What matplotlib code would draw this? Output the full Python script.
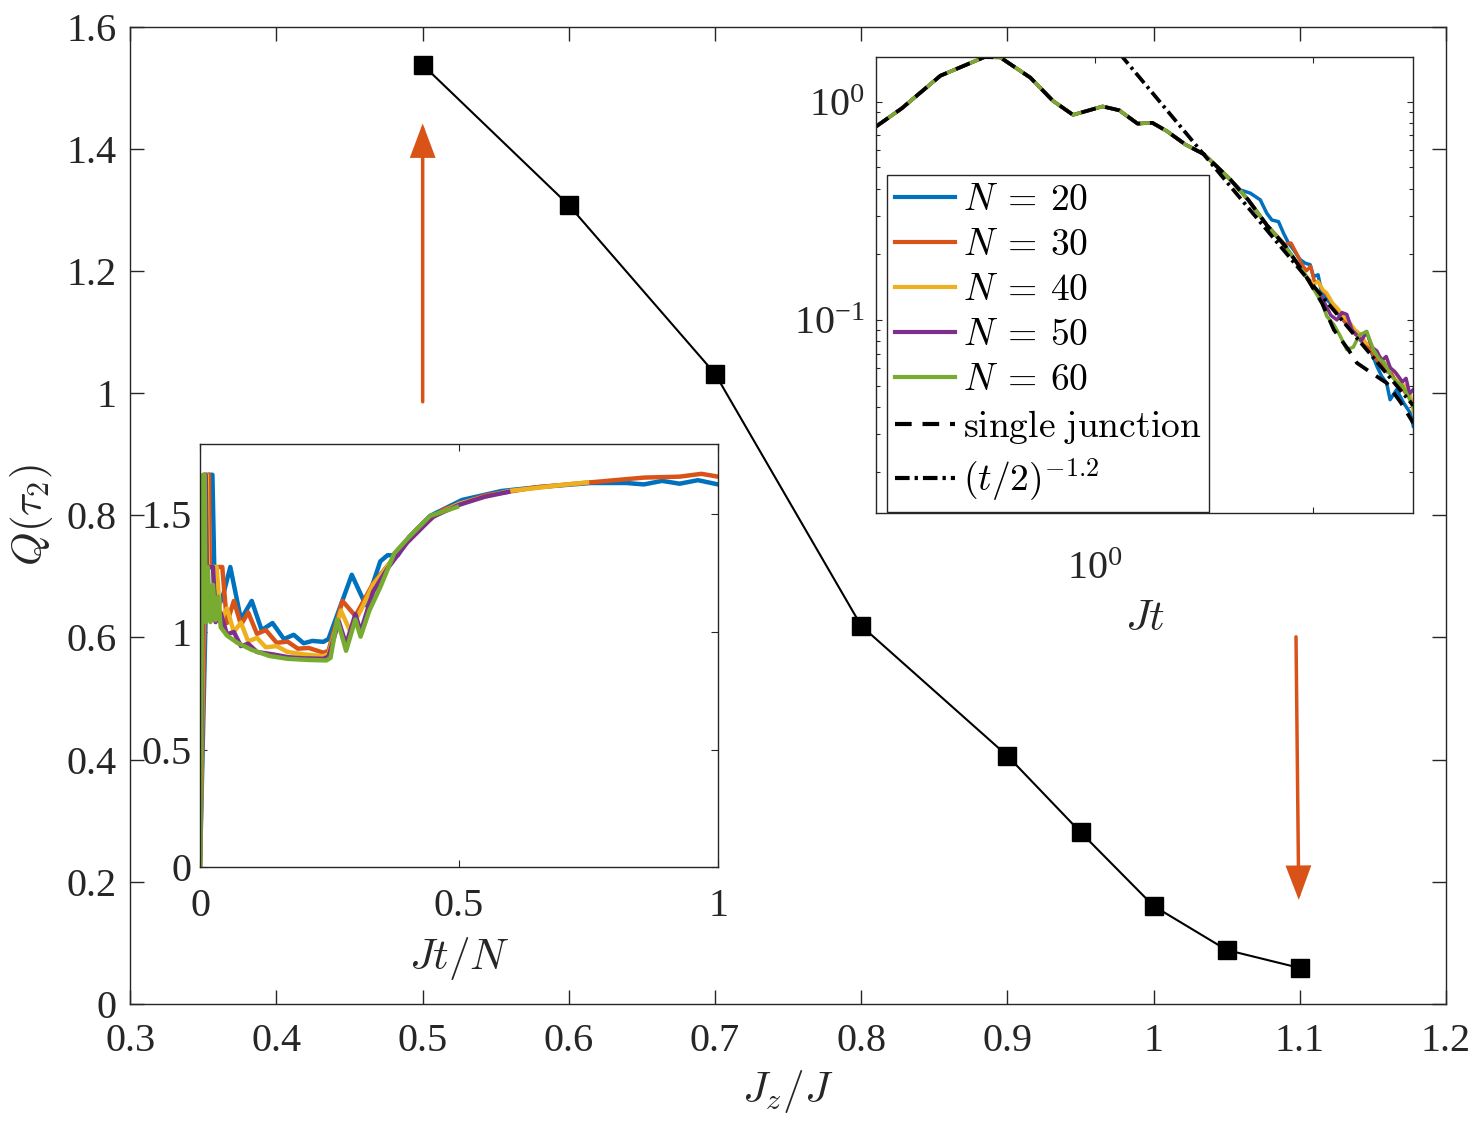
import matplotlib
matplotlib.use('Agg')
import numpy as np
import matplotlib.pyplot as plt
from matplotlib.ticker import FixedLocator, FixedFormatter, NullFormatter, LogLocator, NullLocator
from matplotlib.patches import FancyArrowPatch

plt.rcParams['font.family'] = ['Liberation Serif', 'DejaVu Serif']
plt.rcParams['mathtext.fontset'] = 'cm'

# ---------------- main panel data ----------------
jz = [0.5, 0.6, 0.7, 0.8, 0.9, 0.95, 1.0, 1.05, 1.1]
q_tau2 = [1.538, 1.308, 1.032, 0.619, 0.406, 0.281, 0.160, 0.088, 0.0585]
main_xticks = [0.3, 0.4, 0.5, 0.6, 0.7, 0.8, 0.9, 1.0, 1.1, 1.2]
main_xticklabels = ['0.3', '0.4', '0.5', '0.6', '0.7', '0.8', '0.9', '1', '1.1', '1.2']
main_yticks = [0, 0.2, 0.4, 0.6, 0.8, 1.0, 1.2, 1.4, 1.6]
main_yticklabels = ['0', '0.2', '0.4', '0.6', '0.8', '1', '1.2', '1.4', '1.6']

N_labels = [r'$N\:=\:20$', r'$N\:=\:30$', r'$N\:=\:40$', r'$N\:=\:50$', r'$N\:=\:60$']
colors = ['#0072BD', '#D95319', '#EDB120', '#7E2F8E', '#77AC30']

# ---------------- inset 1 (Jt/N) ----------------
x20 = [0, 0.017, 0.024, 0.028, 0.035, 0.045, 0.0585, 0.079, 0.0999, 0.119, 0.140, 0.162, 0.181,
       0.200, 0.217, 0.238, 0.248, 0.293, 0.320, 0.348, 0.362, 0.382, 0.403, 0.444, 0.506, 0.582,
       0.651, 0.754, 0.823, 0.857, 0.892, 0.926, 0.961, 1.0]
y20 = [0, 1.668, 1.668, 1.22, 1.10, 1.16, 1.276, 1.053, 1.132, 1.008, 1.038, 0.970, 0.988,
       0.952, 0.962, 0.958, 0.97, 1.243, 1.114, 1.30, 1.326, 1.326, 1.402, 1.493, 1.561, 1.599,
       1.615, 1.633, 1.633, 1.627, 1.642, 1.63, 1.645, 1.627]
x30 = [0, 0.0138, 0.0172, 0.019, 0.043, 0.052, 0.0654, 0.0792, 0.093, 0.110, 0.127, 0.148, 0.169,
       0.189, 0.210, 0.238, 0.248, 0.275, 0.300, 0.334, 0.362, 0.389, 0.42, 0.47, 0.55, 0.65,
       0.75, 0.857, 0.926, 0.968, 1.0]
y30 = [0, 1.668, 1.668, 1.276, 1.276, 1.038, 1.132, 1.030, 1.083, 0.992, 1.008, 0.954, 0.959,
       0.929, 0.932, 0.912, 0.92, 1.132, 1.068, 1.205, 1.281, 1.36, 1.44, 1.52, 1.58, 1.615,
       1.635, 1.656, 1.66, 1.672, 1.66]
x40 = [0, 0.010, 0.013, 0.015, 0.032, 0.04, 0.052, 0.0654, 0.079, 0.093, 0.110, 0.127, 0.148,
       0.169, 0.200, 0.238, 0.248, 0.272, 0.289, 0.31, 0.334, 0.362, 0.40, 0.45, 0.50, 0.55,
       0.60, 0.65, 0.70, 0.747]
y40 = [0, 1.668, 1.668, 1.276, 1.276, 1.05, 1.10, 1.0, 1.04, 0.96, 0.975, 0.935, 0.94,
       0.915, 0.905, 0.897, 0.905, 1.091, 1.008, 1.09, 1.2, 1.28, 1.39, 1.49, 1.545, 1.575,
       1.60, 1.612, 1.625, 1.635]
x50 = [0, 0.008, 0.011, 0.013, 0.025, 0.03, 0.04, 0.052, 0.0654, 0.079, 0.093, 0.110, 0.14,
       0.17, 0.2, 0.238, 0.248, 0.268, 0.282, 0.300, 0.31, 0.334, 0.362, 0.40, 0.45, 0.50,
       0.55, 0.595]
y50 = [0, 1.668, 1.668, 1.276, 1.276, 1.042, 1.08, 0.99, 1.0, 0.94, 0.95, 0.915, 0.905,
       0.893, 0.888, 0.886, 0.895, 1.045, 0.947, 1.076, 1.0, 1.17, 1.27, 1.38, 1.49, 1.54,
       1.575, 1.595]
x60 = [0, 0.006, 0.009, 0.011, 0.015, 0.02, 0.025, 0.03, 0.035, 0.04, 0.052, 0.072, 0.0999,
       0.134, 0.169, 0.210, 0.244, 0.252, 0.265, 0.282, 0.300, 0.310, 0.327, 0.348, 0.375,
       0.403, 0.444, 0.496]
y60 = [0, 1.668, 1.668, 1.042, 1.276, 1.042, 1.2, 1.05, 1.15, 1.02, 0.985, 0.954, 0.924,
       0.898, 0.886, 0.881, 0.879, 0.89, 1.053, 0.92, 1.053, 0.98, 1.091, 1.19, 1.334,
       1.402, 1.493, 1.531]
inset1_x = [x20, x30, x40, x50, x60]
inset1_y = [y20, y30, y40, y50, y60]

# ---------------- inset 2 (log-log, Jt) ----------------
t_common = [0.1, 0.131, 0.197, 0.313, 0.37, 0.508, 0.643, 0.796, 1.086, 1.294, 1.57, 1.834,
            2.14, 2.60, 3.16, 4.15, 5.04, 6.12, 7.43, 9.02, 10.96]
q_common = [0.769, 0.931, 1.315, 1.600, 1.595, 1.288, 1.01, 0.870, 0.951, 0.913, 0.793, 0.80,
            0.732, 0.636, 0.574, 0.442, 0.354, 0.272, 0.218, 0.165, 0.119]
split_t = [4.6, 7.3, 8.5, 8.9, 11.0]   # where each N departs from the common curve

t20 = [4.63, 5.14, 5.71, 6.12, 6.45, 6.92, 7.29, 7.69, 8.10, 8.69, 9.16, 9.66, 10.0, 10.5,
       10.9, 11.5, 12.4, 13.2, 14.5, 15.8, 16.9, 18.2, 19.5, 20.5, 21.6, 22.4, 24.0, 25.8,
       27.7, 28.6]
q20 = [0.394, 0.381, 0.355, 0.308, 0.287, 0.282, 0.250, 0.225, 0.210, 0.189, 0.182, 0.179,
       0.158, 0.161, 0.133, 0.124, 0.115, 0.104, 0.0933, 0.0871, 0.0797, 0.0731, 0.0613,
       0.0552, 0.0514, 0.0431, 0.0479, 0.0417, 0.0375, 0.0326]
t30 = [7.4, 7.9, 8.4, 8.9, 9.3, 9.7, 10.1, 10.6, 11.1, 11.7, 12.3, 13.0, 13.8, 14.6, 15.5,
       16.4, 17.3, 18.3, 19.3, 20.4, 21.5, 22.7, 23.9, 25.1, 26.4, 27.6, 28.6]
q30 = [0.222, 0.225, 0.20, 0.178, 0.168, 0.176, 0.150, 0.148, 0.135, 0.128, 0.117, 0.110,
       0.099, 0.095, 0.086, 0.083, 0.076, 0.073, 0.066, 0.064, 0.058, 0.057, 0.052, 0.050,
       0.046, 0.044, 0.040]
t40 = [9.0, 9.5, 10.0, 10.5, 11.0, 11.5, 12.2, 13.0, 13.8, 14.6, 15.5, 16.4, 17.3, 18.3,
       19.3, 20.4, 21.5, 22.7, 23.9, 25.1, 26.4, 27.6, 28.6]
q40 = [0.165, 0.155, 0.145, 0.150, 0.138, 0.133, 0.12, 0.112, 0.103, 0.098, 0.090, 0.086,
       0.079, 0.076, 0.070, 0.067, 0.062, 0.060, 0.057, 0.051, 0.050, 0.046, 0.038]
t50 = [9.0, 10.0, 11.0, 12.0, 12.8, 13.5, 14.2, 15.0, 15.8, 16.5, 17.5, 18.5, 19.5, 20.5,
       21.5, 22.5, 23.5, 24.5, 25.5, 26.5, 27.5, 28.6]
q50 = [0.165, 0.14, 0.125, 0.105, 0.10, 0.108, 0.106, 0.09, 0.085, 0.08, 0.088, 0.075,
       0.072, 0.065, 0.068, 0.06, 0.058, 0.055, 0.052, 0.054, 0.046, 0.048]
t60 = [11.5, 12.4, 13.2, 14.2, 15.2, 16.2, 17.5, 18.8, 20.0, 21.0, 22.5, 24.0, 25.5, 27.0, 28.6]
q60 = [0.104, 0.095, 0.085, 0.0731, 0.075, 0.085, 0.0887, 0.0731, 0.066, 0.064, 0.056,
       0.052, 0.050, 0.045, 0.040]
tails_t = [t20, t30, t40, t50, t60]
tails_q = [q20, q30, q40, q50, q60]

t_single_tail = [12.4, 14.4, 15.8, 18.5, 21.6, 25.0, 28.6]
q_single_tail = [0.090, 0.0734, 0.0635, 0.057, 0.0514, 0.042, 0.0337]

t_power = [1.3, 28.6]
q_power = [1.66, 0.0405]

# ---------------- figure ----------------
W, H = 1478, 1121
fig = plt.figure(figsize=(W / 100, H / 100), dpi=100)
axc = '#262626'

def px_axes(l, t, r, b):
    return [l / W, 1 - b / H, (r - l) / W, (b - t) / H]

ax = fig.add_axes(px_axes(130.3, 27, 1446, 1003.7))
ax.plot(jz, q_tau2, '-s', color='k', lw=1.5, ms=13.5, mfc='k', mec='k')
ax.set_xlim(0.3, 1.2)
ax.set_ylim(0, 1.6)
ax.xaxis.set_major_locator(FixedLocator(main_xticks))
ax.xaxis.set_major_formatter(FixedFormatter(main_xticklabels))
ax.yaxis.set_major_locator(FixedLocator(main_yticks))
ax.yaxis.set_major_formatter(FixedFormatter(main_yticklabels))
ax.tick_params(direction='in', length=10, width=1, top=True, right=True,
               labelsize=29, colors=axc)
ax.tick_params(axis='x', pad=14)
ax.tick_params(axis='y', pad=10)
for s in ax.spines.values():
    s.set_color(axc); s.set_linewidth(1)
ax.set_xlabel(r'$J_z/J$', fontsize=31, labelpad=6, color=axc)
ax.set_ylabel(r'$Q(\tau_2)$', fontsize=31, labelpad=8, color=axc)

arrow_color = '#D95319'
for (x0, y0), (x1, y1) in [((0.5, 0.986), (0.5, 1.442)), ((1.0974, 0.601), (1.0993, 0.170))]:
    arr = FancyArrowPatch((x0, y0), (x1, y1), arrowstyle='-|>,head_length=20,head_width=7.5',
                          mutation_scale=1, lw=2.5, color=arrow_color, shrinkA=0, shrinkB=0,
                          joinstyle='miter')
    ax.add_patch(arr)

# inset 1
ax1 = fig.add_axes(px_axes(200, 443.7, 718, 867.3))
for xs, ys, c in zip(inset1_x, inset1_y, colors):
    ax1.plot(xs, ys, color=c, lw=3.2)
ax1.set_xlim(0, 1)
ax1.set_ylim(0, 1.8)
ax1.set_xticks([0, 0.5, 1])
ax1.set_xticklabels(['0', '0.5', '1'])
ax1.set_yticks([0, 0.5, 1, 1.5])
ax1.set_yticklabels(['0', '0.5', '1', '1.5'])
ax1.tick_params(direction='in', length=5, width=0.8, top=True, right=True,
                labelsize=29, colors=axc)
ax1.tick_params(axis='x', pad=15)
ax1.tick_params(axis='y', pad=6)
for s in ax1.spines.values():
    s.set_color(axc); s.set_linewidth(1)
ax1.set_xlabel(r'$Jt/N$', fontsize=31, labelpad=7, color=axc)

# inset 2
ax2 = fig.add_axes(px_axes(876, 56.7, 1413.3, 513.3))
ax2.set_xscale('log')
ax2.set_yscale('log')
handles = []
for k, c in enumerate(colors):
    tt = [t for t in t_common if t < split_t[k]] + tails_t[k]
    qq = [q for t, q in zip(t_common, q_common) if t < split_t[k]] + tails_q[k]
    h, = ax2.plot(tt, qq, color=c, lw=2.5)
    handles.append(h)
hs, = ax2.plot(t_common + t_single_tail, q_common + q_single_tail, color='k', lw=2.7,
               dashes=(4, 2.6))
hp, = ax2.plot(t_power, q_power, color='k', lw=2.7, dashes=(3.5, 1.2, 0.8, 1.2))
handles += [hs, hp]
ax2.set_xlim(0.1, 28.6)
ax2.set_ylim(0.013, 1.607)
ax2.xaxis.set_major_locator(FixedLocator([1, 10]))
ax2.xaxis.set_major_formatter(FixedFormatter([r'$\mathdefault{10^{0}}$', '']))
ax2.xaxis.set_minor_locator(NullLocator())
ax2.yaxis.set_major_locator(FixedLocator([0.1, 1]))
ax2.yaxis.set_major_formatter(FixedFormatter([r'$\mathdefault{10^{-1}}$', r'$\mathdefault{10^{0}}$']))
ax2.yaxis.set_minor_locator(LogLocator(base=10, subs=np.arange(2, 10)))
ax2.yaxis.set_minor_formatter(NullFormatter())
ax2.tick_params(which='major', direction='in', length=4.5, width=0.8, top=True, right=True,
                labelsize=29, colors=axc)
ax2.tick_params(which='minor', direction='in', length=3, width=0.8, top=True, right=True,
                colors=axc)
ax2.tick_params(axis='x', pad=27)
ax2.tick_params(axis='y', pad=8)
for s in ax2.spines.values():
    s.set_color(axc); s.set_linewidth(1)
ax2.set_xlabel(r'$Jt$', fontsize=31, labelpad=9, color=axc)

leg = ax2.legend(handles, N_labels + [r'$\mathrm{single\ junction}$', r'$(t/2)^{-1.2}$'],
                 loc='upper left', bbox_to_anchor=(887 / W, 1 - 175 / H),
                 bbox_transform=fig.transFigure, fontsize=27, frameon=True, fancybox=False,
                 framealpha=1, borderaxespad=0, borderpad=0.22, handlelength=1.6,
                 handletextpad=0.2, labelspacing=0.28)
leg.get_frame().set_edgecolor(axc)
leg.get_frame().set_linewidth(1)
for line in leg.get_lines():
    line.set_linewidth(3)

fig.savefig('out.png', dpi=100)
